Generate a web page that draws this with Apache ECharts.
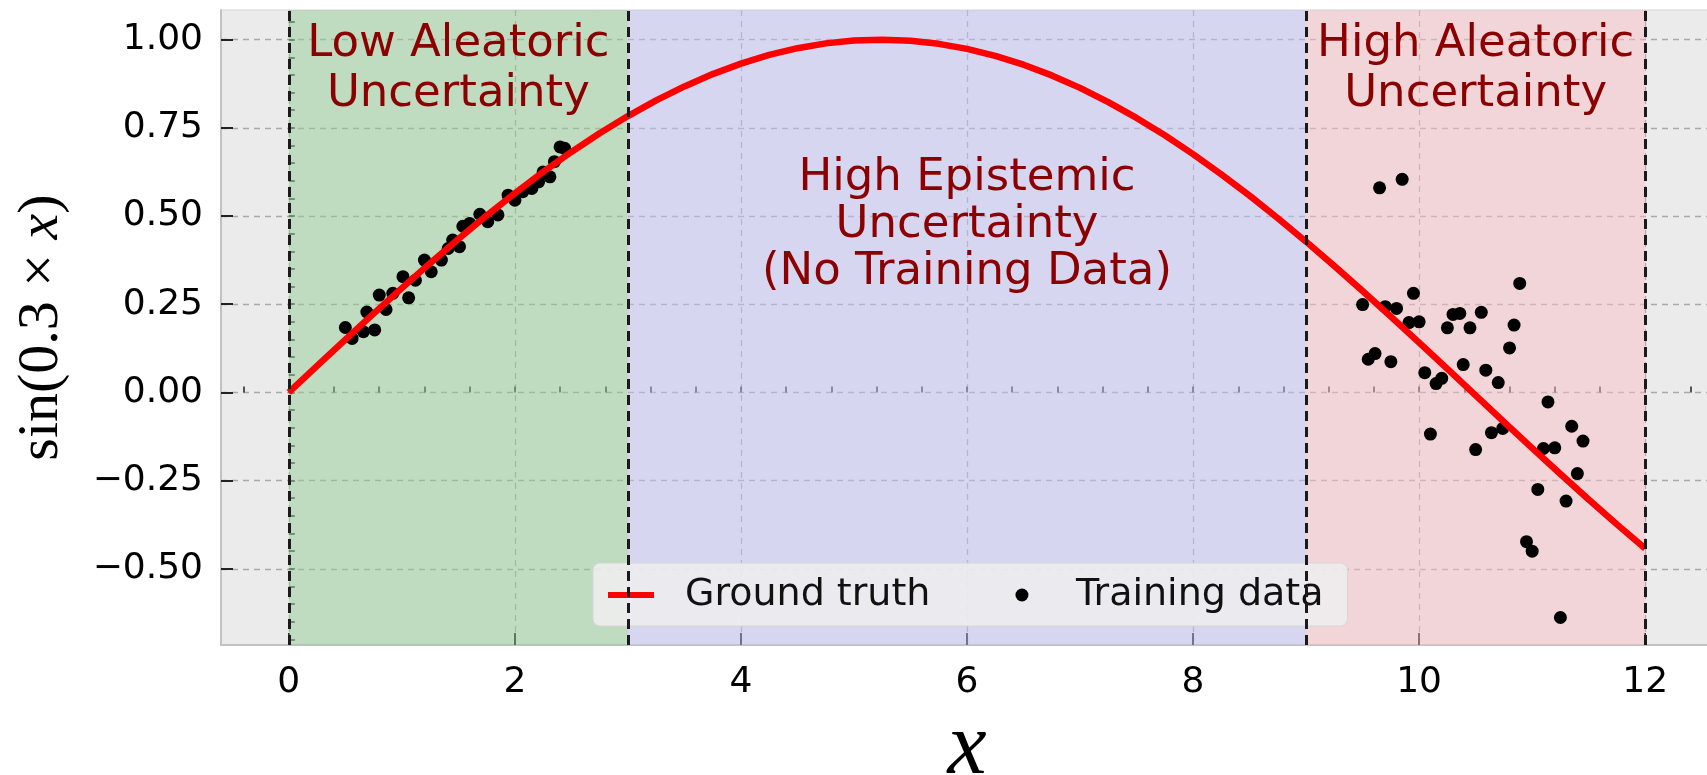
<!DOCTYPE html>
<html>
<head>
<meta charset="utf-8">
<title>Aleatoric vs epistemic uncertainty</title>
<script src="https://cdn.jsdelivr.net/npm/echarts@6/dist/echarts.min.js"></script>
<style>
  html, body { margin: 0; padding: 0; background: #ffffff; }
  #chart { width: 1707px; height: 775px; }
</style>
</head>
<body>
<div id="chart"></div>
<script>
// Ground truth curve sin(0.3 x), tabulated at 0.25 steps
const truthX = [0, 0.25, 0.5, 0.75, 1, 1.25, 1.5, 1.75, 2, 2.25, 2.5, 2.75, 3, 3.25, 3.5, 3.75, 4, 4.25, 4.5, 4.75,
                5, 5.25, 5.5, 5.75, 6, 6.25, 6.5, 6.75, 7, 7.25, 7.5, 7.75, 8, 8.25, 8.5, 8.75, 9, 9.25, 9.5, 9.75,
                10, 10.25, 10.5, 10.75, 11, 11.25, 11.5, 11.75, 12];
const truthY = [0, 0.0749, 0.1494, 0.2231, 0.2955, 0.3663, 0.4350, 0.5012, 0.5646, 0.6249, 0.6816, 0.7345, 0.7833,
                0.8277, 0.8674, 0.9023, 0.9320, 0.9566, 0.9757, 0.9894, 0.9975, 1.0000, 0.9969, 0.9881, 0.9738,
                0.9541, 0.9290, 0.8986, 0.8632, 0.8230, 0.7781, 0.7288, 0.6755, 0.6183, 0.5577, 0.4939, 0.4274,
                0.3584, 0.2875, 0.2149, 0.1411, 0.0665, -0.0084, -0.0833, -0.1577, -0.2313, -0.3035, -0.3741, -0.4425];

// Training samples: low-noise cluster on the left
const lowX = [0.50, 0.56, 0.69, 0.66, 0.76, 0.80, 0.86, 0.92, 1.01, 1.06, 1.12, 1.20, 1.26, 1.35, 1.41, 1.45,
              1.51, 1.54, 1.60, 1.69, 1.76, 1.85, 1.94, 2.00, 2.07, 2.15, 2.21, 2.25, 2.31, 2.35, 2.40, 2.44];
const lowY = [0.184, 0.153, 0.228, 0.172, 0.177, 0.276, 0.235, 0.281, 0.328, 0.268, 0.318, 0.375, 0.342, 0.375, 0.408, 0.432,
              0.413, 0.471, 0.479, 0.505, 0.484, 0.503, 0.559, 0.545, 0.569, 0.578, 0.597, 0.625, 0.611, 0.654, 0.696, 0.692];

// Training samples: high-noise cluster on the right
const highX = [9.65, 9.85, 10.89, 9.95, 9.50, 9.70, 9.80, 9.91, 10.00, 10.30, 10.36, 10.55, 10.25, 10.45,
               10.84, 10.80, 9.55, 9.61, 9.75, 10.05, 10.15, 10.20, 10.39, 10.59, 10.70, 11.14,
               10.10, 10.50, 10.64, 10.74, 11.10, 11.20, 11.35, 11.45, 11.40, 11.05, 11.30, 10.95, 11.00, 11.25];
const highY = [0.580, 0.604, 0.309, 0.281, 0.249, 0.243, 0.238, 0.198, 0.200, 0.221, 0.224, 0.227, 0.183, 0.183,
               0.191, 0.126, 0.094, 0.110, 0.087, 0.056, 0.025, 0.040, 0.079, 0.063, 0.028, -0.027,
               -0.118, -0.162, -0.114, -0.102, -0.159, -0.157, -0.096, -0.138, -0.230, -0.275, -0.308, -0.423, -0.450, -0.638];

// Region boundaries and their captions
const regionBounds = [0, 3, 9, 12];
const regionLabels = ['Low Aleatoric\nUncertainty', 'High Epistemic\nUncertainty\n(No Training Data)', 'High Aleatoric\nUncertainty'];
const regionLabelAt = [[1.5, 0.916], [6, 0.473], [10.5, 0.916]];

// Axis ticks
const xTickValues = [0, 2, 4, 6, 8, 10, 12];
const xMinorValues = [-0.4, 0, 0.4, 0.8, 1.2, 1.6, 2, 2.4, 2.8, 3.2, 3.6, 4, 4.4, 4.8, 5.2, 5.6, 6, 6.4, 6.8,
                      7.2, 7.6, 8, 8.4, 8.8, 9.2, 9.6, 10, 10.4, 10.8, 11.2, 11.6, 12, 12.4];
const yTickValues = [-0.5, -0.25, 0, 0.25, 0.5, 0.75, 1.0];
const yMinorValues = [-0.7, -0.65, -0.6, -0.55, -0.5, -0.45, -0.4, -0.35, -0.3, -0.25, -0.2, -0.15, -0.1, -0.05,
                      0, 0.05, 0.1, 0.15, 0.2, 0.25, 0.3, 0.35, 0.4, 0.45, 0.5, 0.55, 0.6, 0.65, 0.7, 0.75,
                      0.8, 0.85, 0.9, 0.95, 1.0, 1.05];

const X_MIN = -0.6, X_MAX = 12.6;
const Y_MIN = -0.716, Y_MAX = 1.084;

const SANS = "'DejaVu Sans', Verdana, sans-serif";
const SERIF = "'Liberation Serif', 'Times New Roman', serif";

const zip = (xs, ys) => xs.map((x, i) => [x, ys[i]]);

const chart = echarts.init(document.getElementById('chart'), null, { renderer: 'canvas' });

const gridLine = { show: true, lineStyle: { color: '#a9a9a9', width: 1.3, type: [6, 5] } };

chart.setOption({
  animation: false,
  backgroundColor: '#ffffff',
  grid: {
    left: 221, top: 10, width: 1492, height: 635,
    show: true, backgroundColor: '#ebebeb', borderColor: '#d4d4d4', borderWidth: 1,
    outerBoundsMode: 'none'
  },
  legend: {
    data: [
      { name: 'Ground truth', icon: 'path://M0,0 L46,0 L46,6 L0,6 Z', itemStyle: { color: '#ff0000', borderWidth: 0 } },
      { name: 'Training data', icon: 'circle', itemStyle: { color: '#000000', borderWidth: 0 } }
    ],
    left: 593, top: 563,
    itemWidth: 46, itemHeight: 13, itemGap: 85,
    padding: [10, 24, 9, 15],
    backgroundColor: 'rgba(238,238,238,0.88)',
    borderColor: '#d6d6d6', borderWidth: 1, borderRadius: 7,
    textStyle: { fontFamily: SANS, fontSize: 38, color: '#111111', lineHeight: 44, padding: [0, 0, 0, 26] },
    selectedMode: false
  },
  xAxis: [
    {
      type: 'value', min: X_MIN, max: X_MAX, position: 'bottom',
      name: 'x', nameLocation: 'middle', nameGap: 60,
      nameTextStyle: { fontFamily: SERIF, fontStyle: 'italic', fontSize: 88, color: '#000' },
      axisLine: { show: true, onZero: false, lineStyle: { color: '#c2c2c2', width: 2 } },
      axisTick: { show: true, inside: true, length: 12, customValues: xTickValues, lineStyle: { color: '#222', width: 2 } },
      axisLabel: { show: true, customValues: xTickValues, margin: 20, fontFamily: SANS, fontSize: 36, color: '#000' },
      splitLine: gridLine
    },
    {
      type: 'value', min: X_MIN, max: X_MAX, position: 'bottom',
      axisLine: { show: false },
      axisTick: { show: true, inside: true, length: 6, customValues: xMinorValues, lineStyle: { color: '#222', width: 1.5 } },
      axisLabel: { show: false },
      splitLine: { show: false }
    }
  ],
  yAxis: [
    {
      type: 'value', min: Y_MIN, max: Y_MAX, position: 'left',
      name: '{r|sin(0.3 × }{i|x}{r|)}', nameLocation: 'middle', nameGap: 150, nameRotate: 90,
      nameTextStyle: {
        rich: {
          r: { fontFamily: SERIF, fontSize: 58, color: '#000' },
          i: { fontFamily: SERIF, fontSize: 58, fontStyle: 'italic', color: '#000' }
        }
      },
      axisLine: { show: true, onZero: false, lineStyle: { color: '#c2c2c2', width: 2 } },
      axisTick: { show: true, inside: true, length: 12, customValues: yTickValues, lineStyle: { color: '#222', width: 2 } },
      axisLabel: {
        show: true, customValues: yTickValues, margin: 18, fontFamily: SANS, fontSize: 36, color: '#000',
        formatter: v => v.toFixed(2).replace('-', '\u2212')
      },
      splitLine: gridLine
    },
    {
      type: 'value', min: Y_MIN, max: Y_MAX, position: 'left',
      axisLine: { show: false },
      axisTick: { show: true, inside: true, length: 6, customValues: yMinorValues, lineStyle: { color: '#222', width: 1.5 } },
      axisLabel: { show: false },
      splitLine: { show: false }
    }
  ],
  series: [
    {
      // shaded regions and their dashed boundaries
      name: 'regions', type: 'line', data: [], z: 1, silent: true,
      markArea: {
        silent: true,
        data: [
          [{ xAxis: regionBounds[0], itemStyle: { color: 'rgba(150,206,150,0.5)' } }, { xAxis: regionBounds[1] }],
          [{ xAxis: regionBounds[1], itemStyle: { color: 'rgba(194,194,248,0.5)' } }, { xAxis: regionBounds[2] }],
          [{ xAxis: regionBounds[2], itemStyle: { color: 'rgba(250,192,198,0.5)' } }, { xAxis: regionBounds[3] }]
        ]
      },
      markLine: {
        silent: true, symbol: 'none', label: { show: false },
        lineStyle: { color: '#1a1a1a', width: 3, type: [10, 6] },
        data: regionBounds.map(b => ({ xAxis: b }))
      }
    },
    {
      name: 'Training data', type: 'scatter', z: 3,
      symbol: 'circle', symbolSize: 13,
      itemStyle: { color: '#000000', opacity: 1 },
      data: zip(lowX, lowY).concat(zip(highX, highY)),
      markPoint: {
        silent: true, symbol: 'circle', symbolSize: 0,
        label: {
          show: true, position: 'inside', color: '#8b0000', fontFamily: SANS, fontSize: 45,
          lineHeight: 50, align: 'center', verticalAlign: 'middle'
        },
        data: regionLabels.map((t, i) => ({
          coord: regionLabelAt[i], value: t,
          label: { formatter: t, lineHeight: i === 1 ? 47 : 50 }
        }))
      }
    },
    {
      name: 'Ground truth', type: 'line', z: 4,
      symbol: 'none', smooth: false,
      lineStyle: { color: '#ff0000', width: 6.5 },
      itemStyle: { color: '#ff0000' },
      data: zip(truthX, truthY)
    }
  ]
});
</script>
</body>
</html>
